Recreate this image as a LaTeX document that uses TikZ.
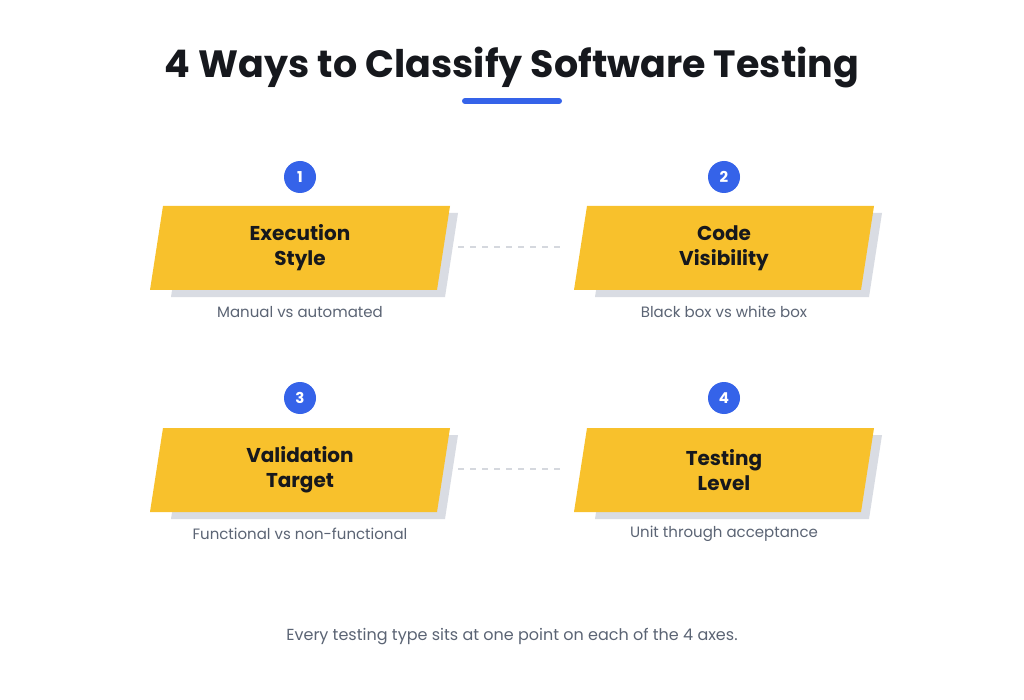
\documentclass[tikz,border=0pt]{standalone}
\usepackage{fontspec}
\setmainfont{Poppins}
\definecolor{blueA}{HTML}{3563E9}
\definecolor{yel}{HTML}{F8C12C}
\definecolor{shad}{HTML}{D9DCE3}
\definecolor{sub}{HTML}{5B6474}
\definecolor{ink}{HTML}{16181D}
\definecolor{dashgray}{HTML}{D5D8DE}
\tikzset{
  num/.style={circle,fill=blueA,text=white,minimum size=32pt,inner sep=0pt,font=\fontsize{15}{15}\selectfont\bfseries},
  lbl/.style={text=ink,align=center,font=\fontsize{20}{25}\selectfont\bfseries},
  subt/.style={text=sub,font=\fontsize{15}{18}\selectfont},
  conn/.style={draw=dashgray,line width=1.6pt,dash pattern=on 6pt off 6pt}
}
\newcommand{\cardbox}[4]{% #1 cx, #2 cy, #3 name, #4 text
  \fill[shad] (#1-137+8,#2+42+7) -- (#1+137+8,#2+42+7) -- (#1+150+8,#2-42+7) -- (#1-124+8,#2-42+7) -- cycle;
  \fill[yel] (#1-150,#2+42) -- (#1+137,#2+42) -- (#1+150,#2-42) -- (#1-137,#2-42) -- cycle;
  \node[lbl] (#3) at (#1,#2) {#4};
}
\begin{document}
\begin{tikzpicture}[x=1pt,y=-1pt]
\useasboundingbox[fill=white] (0,0) rectangle (1024,700);
\node[text=ink,font=\fontsize{38}{40}\selectfont\bfseries] (title) at (512,68) {4 Ways to Classify Software Testing};
\draw[blueA,line width=6pt,line cap=round] (465,101) -- (559,101);
\cardbox{300}{248}{c1}{Execution\\Style}
\cardbox{724}{248}{c2}{Code\\Visibility}
\cardbox{300}{470}{c3}{Validation\\Target}
\cardbox{724}{470}{c4}{Testing\\Level}
\node[num] (n1) at (300,177) {1};
\node[num] (n2) at (724,177) {2};
\node[num] (n3) at (300,398) {3};
\node[num] (n4) at (724,398) {4};
\coordinate (d1a) at (458,247); \coordinate (d1b) at (562,247);
\coordinate (d2a) at (458,469); \coordinate (d2b) at (562,469);
\draw[conn] (d1a) -- (d1b);
\draw[conn] (d2a) -- (d2b);
\node[subt] (s1) at (300,312) {Manual vs automated};
\node[subt] (s2) at (724,312) {Black box vs white box};
\node[subt] (s3) at (300,534) {Functional vs non-functional};
\node[subt] (s4) at (724,534) {Unit through acceptance};
\node[subt,font=\fontsize{16}{18}\selectfont] (foot) at (512,637) {Every testing type sits at one point on each of the 4 axes.};
\end{tikzpicture}
\end{document}
